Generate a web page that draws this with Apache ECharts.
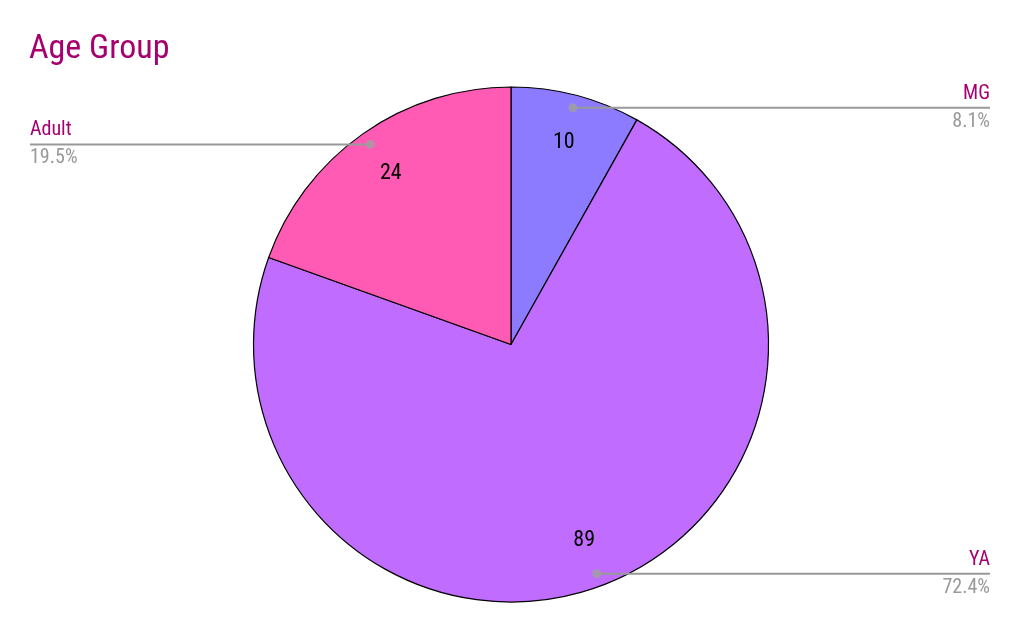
<!DOCTYPE html>
<html>
<head>
<meta charset="utf-8">
<script src="https://cdn.jsdelivr.net/npm/echarts@6/dist/echarts.min.js"></script>
<style>html,body{margin:0;padding:0;background:#fff}#c{width:1023px;height:632px}</style>
</head>
<body>
<div id="c"></div>
<script>
const categories = ['MG', 'YA', 'Adult'];
const values = [10, 89, 24];
const colors = ['#8c7bff', '#c06cff', '#ff5ab4'];
const titleText = 'Age Group';

const FONT = "'Roboto Condensed', 'Liberation Sans', Arial, sans-serif";
const CX = 511, CY = 344.5, R = 257.5;
const LEFT_EDGE = 30, RIGHT_EDGE = 990;

const total = values.reduce((a, b) => a + b, 0);
const data = categories.map((n, i) => ({ name: n, value: values[i], itemStyle: { color: colors[i] } }));
// mid angles (degrees clockwise from top) for the leader dots
let acc = 0;
const dots = values.map(v => { const mid = (acc + v / 2) / total * 360; acc += v; return [0.95, mid]; });

const chart = echarts.init(document.getElementById('c'));
chart.setOption({
  animation: false,
  title: {
    text: titleText, left: 29, top: 32, padding: 0,
    textStyle: { fontFamily: FONT, fontSize: 34, fontWeight: 'normal', color: '#a5006e' }
  },
  polar: { center: [CX, CY], radius: R * 0.95 },
  angleAxis: { type: 'value', min: 0, max: 360, startAngle: 90, clockwise: true, show: false },
  radiusAxis: { type: 'value', min: 0, max: 0.95, show: false },
  series: [
    {
      type: 'pie', center: [CX, CY], radius: [0, R], startAngle: 90, clockwise: true, z: 1,
      data: data, silent: true,
      itemStyle: { borderColor: '#000', borderWidth: 1.2 },
      label: { show: false }, labelLine: { show: false }, emphasis: { disabled: true }
    },
    {
      type: 'pie', center: [CX, CY], radius: [R * 0.6, R], startAngle: 90, clockwise: true, z: 2,
      data: data.map(d => ({ name: d.name, value: d.value })), silent: true,
      itemStyle: { color: 'rgba(0,0,0,0)' },
      label: { show: true, position: 'inside', formatter: '{c}', fontFamily: FONT, fontSize: 22, color: '#000' },
      labelLine: { show: false }, emphasis: { disabled: true }
    },
    {
      type: 'pie', center: [CX, CY], radius: [0, R * 0.95], startAngle: 90, clockwise: true, z: 3,
      data: data.map(d => ({ name: d.name, value: d.value })), silent: true,
      percentPrecision: 1,
      itemStyle: { color: 'rgba(0,0,0,0)' },
      label: {
        show: true, position: 'outside',
        formatter: p => '{n|' + p.name + '}\n{p|' + p.percent.toFixed(1) + '%}',
        rich: {
          n: { fontFamily: FONT, fontSize: 20, color: '#a5006e', lineHeight: 28 },
          p: { fontFamily: FONT, fontSize: 20, color: '#999999', lineHeight: 28 }
        }
      },
      labelLine: { show: true, length: 0, length2: 10, lineStyle: { color: '#999999', width: 2 } },
      labelLayout: function (params) {
        const pts = params.labelLinePoints;
        const p0 = pts[0];
        const right = p0[0] >= CX;
        const ex = right ? RIGHT_EDGE : LEFT_EDGE;
        return {
          x: ex, y: p0[1], align: right ? 'right' : 'left', verticalAlign: 'middle',
          labelLinePoints: [[p0[0], p0[1]], [p0[0], p0[1]], [ex, p0[1]]]
        };
      },
      emphasis: { disabled: true }
    },
    {
      type: 'scatter', coordinateSystem: 'polar', data: dots, symbolSize: 9, silent: true,
      itemStyle: { color: '#a0a0a0' }, z: 5
    }
  ]
});
</script>
</body>
</html>
